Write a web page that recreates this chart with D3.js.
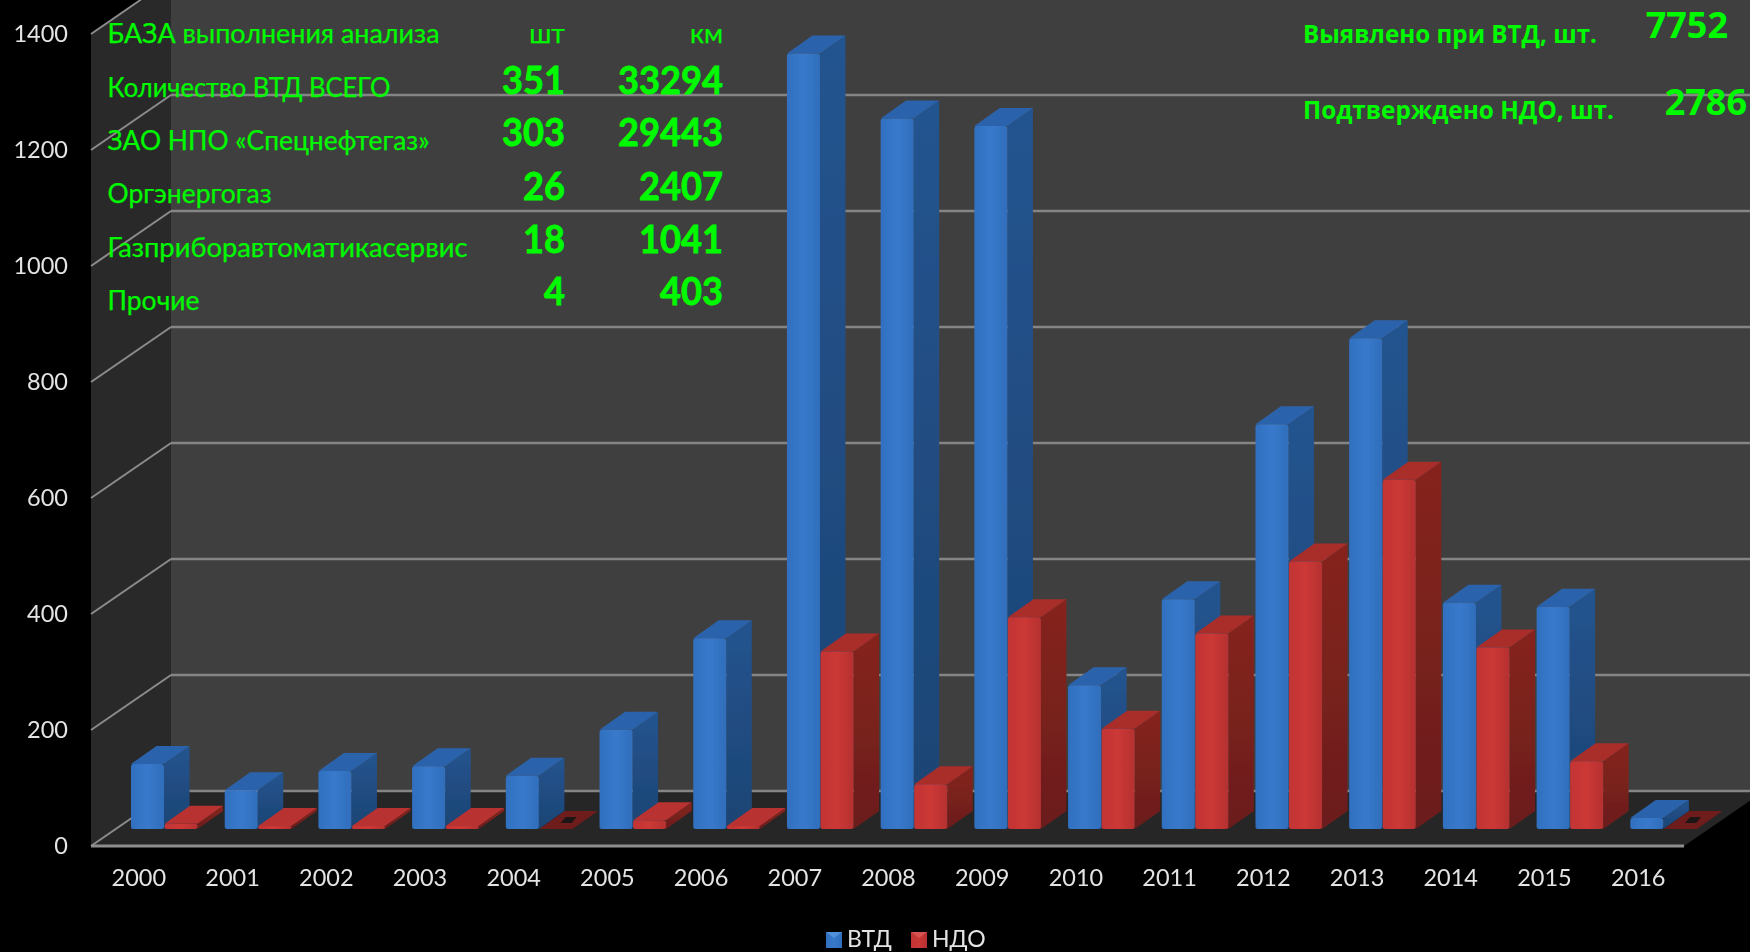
<!DOCTYPE html>
<html><head><meta charset="utf-8">
<script src="https://cdn.jsdelivr.net/npm/d3@7/dist/d3.min.js"></script>
<style>html,body{margin:0;padding:0;background:#000;overflow:hidden}svg{display:block}</style>
</head><body><svg id="c" width="1750" height="952"></svg>
<script>
const years=["2000","2001","2002","2003","2004","2005","2006","2007","2008","2009","2010","2011","2012","2013","2014","2015","2016"];
const seriesNames=["ВТД","НДО"];
const vtd=[112,67,100,108,92,171,329,1337,1225,1212,248,396,698,846,390,383,19];
const ndo=[9,5,5,5,0,15,5,306,77,365,173,337,461,602,313,117,0];
const yTicks=[0,200,400,600,800,1000,1200,1400];
const tableHead=["БАЗА выполнения анализа","шт","км"];
const tableLabels=["Количество ВТД ВСЕГО","ЗАО НПО «Спецнефтегаз»","Оргэнергогаз","Газприборавтоматикасервис","Прочие"];
const tableCounts=[351,303,26,18,4];
const tableKm=[33294,29443,2407,1041,403];
const noteLabels=["Выявлено при ВТД, шт.","Подтверждено НДО, шт."];
const noteValues=[7752,2786];

const svg=d3.select("#c");
const W=1750,H=952;
const left=91,right=1684,y0=846,yTop=34;
const wallDx=80,wallDy=55;      // depth of the chart box
const barShiftX=26.7,barShiftY=17; // where bars stand on the floor
const dx=25.5,dy=18;            // depth of a bar
const y=d3.scaleLinear().domain([0,1400]).range([y0,yTop]);
const xAxisScale=d3.scaleBand().domain(years).range([left,right]);
const x0=d3.scaleBand().domain(years).range([left+barShiftX,right+barShiftX]).paddingInner(.284).paddingOuter(.142);
const x1=d3.scaleBand().domain(seriesNames).range([0,x0.bandwidth()]);
const poly=d3.line().curve(d3.curveLinearClosed);

const defs=svg.append("defs");
function grad(id,stops,vertical){
  const g=defs.append("linearGradient").attr("id",id).attr("x1",0).attr("y1",0).attr("x2",vertical?0:1).attr("y2",vertical?1:0);
  stops.forEach(s=>g.append("stop").attr("offset",s[0]).attr("stop-color",s[1]));
}
grad("bf",[[0,"#3070bf"],[.5,"#3979cc"],[1,"#2f6ebb"]]);
grad("bs",[[0,"#23548f"],[1,"#1d4474"]],true);
grad("rf",[[0,"#c23433"],[.5,"#cc3836"],[1,"#b53130"]]);
grad("rs",[[0,"#86241f"],[1,"#6b1d1b"]],true);
defs.append("filter").attr("id","soft").append("feGaussianBlur").attr("stdDeviation",.7);
defs.append("filter").attr("id","softT").append("feGaussianBlur").attr("stdDeviation",.35);

// box
svg.append("rect").attr("width",W).attr("height",H).attr("fill","#000");
svg.append("rect").attr("x",left+wallDx).attr("y",0).attr("width",W-left-wallDx).attr("height",y(0)-wallDy).attr("fill","#3f3f3f");
svg.append("path").attr("fill","#292929").attr("d",poly([[left,y(1400)],[left+52,0],[left+wallDx,0],[left+wallDx,y(0)-wallDy],[left,y(0)]]));
svg.append("path").attr("fill","#262626").attr("d",poly([[left,y0],[right,y0],[right+wallDx,y0-wallDy],[left+wallDx,y0-wallDy]]));

// grid
const grid=svg.append("g").attr("fill","none");
grid.selectAll("path.b").data(yTicks).join("path").attr("class","b").attr("stroke","#858585").attr("stroke-width",2.4)
  .attr("d",d=>d3.line()([[left+wallDx,y(d)-wallDy],[W,y(d)-wallDy]]));
grid.selectAll("path.s").data(yTicks).join("path").attr("class","s").attr("stroke","#8c8c8c").attr("stroke-width",2)
  .attr("d",d=>d3.line()([[left,y(d)],[left+wallDx,y(d)-wallDy]]));
svg.append("path").attr("stroke","#8e8e8e").attr("stroke-width",3).attr("d",d3.line()([[left,y0],[right,y0]]));

// bars
const barsG=svg.append("g").attr("filter","url(#soft)");
const rows=[];
years.forEach((yr,i)=>{rows.push({yr,s:"ВТД",v:vtd[i]});rows.push({yr,s:"НДО",v:ndo[i]});});
const styles={"ВТД":{f:"url(#bf)",side:"url(#bs)",top:"#2c63ab"},"НДО":{f:"url(#rf)",side:"url(#rs)",top:"#a92d2b"}};
rows.forEach(d=>{
  const st=styles[d.s];
  const xa=x0(d.yr)+x1(d.s),xb=xa+x1.bandwidth()-.5;
  const base=y(0)-barShiftY,t=y(d.v)-barShiftY;
  const g=barsG.append("g");
  if(d.v===0){
    g.append("path").attr("fill","#6e1b1b").attr("d",poly([[xa,base],[xa+dx,base-dy],[xb+dx,base-dy],[xb,base]]));
    const cx=(xa+xb+dx)/2,cy=base-dy/2;
    g.append("path").attr("fill","#1c1414").attr("d",poly([[cx-8,cy+3],[cx-3,cy-3],[cx+8,cy-3],[cx+3,cy+3]]));
    return;
  }
  const flat=d.s==="НДО"&&d.v<20;
  g.append("path").attr("fill",st.side).attr("d",poly([[xb,t],[xb+dx,t-dy],[xb+dx,base-dy],[xb,base]]));
  g.append("path").attr("fill",flat?"#b93130":st.top).attr("d",poly([[xa,t],[xa+dx,t-dy],[xb+dx,t-dy],[xb,t]]));
  g.append("rect").attr("x",xa).attr("y",t).attr("width",xb-xa).attr("height",base-t).attr("rx",Math.min(2.5,(base-t)/2)).attr("fill",st.f);
});

// axes
const tickFont="Lato, sans-serif";
const ax=svg.append("g").attr("transform",`translate(1,${y0})`).call(d3.axisBottom(xAxisScale).tickSize(0).tickPadding(23));
const ay=svg.append("g").attr("transform",`translate(${left},0)`).call(d3.axisLeft(y).tickValues(yTicks).tickFormat(d3.format("d")).tickSize(0).tickPadding(23));
[ax,ay].forEach(a=>{a.select(".domain").remove();
  a.selectAll("text").attr("fill","#e4e4e4").attr("font-family",tickFont).attr("font-size",23.5).attr("filter","url(#softT)");});

// table
const green="#00fa00";
const labelFont="Lato, sans-serif";
const t=svg.append("g").attr("fill",green).attr("font-family",labelFont).attr("stroke",green).attr("stroke-width",.25);
const labelBase=[96.5,149.5,202.5,256.5,309.5],numBase=[94,146,200,253,305];
const labelWidths=[283,322,164,360,92];
const digitW=21;
t.append("text").attr("x",107.5).attr("y",43).attr("font-size",27).attr("textLength",332).attr("lengthAdjust","spacingAndGlyphs").text(tableHead[0]);
t.append("text").attr("x",565).attr("y",43).attr("font-size",27).attr("text-anchor","end").text(tableHead[1]);
t.append("text").attr("x",723).attr("y",43).attr("font-size",27).attr("text-anchor","end").text(tableHead[2]);
t.selectAll("text.l").data(tableLabels).join("text").attr("class","l").attr("x",107.5).attr("y",(d,i)=>labelBase[i])
  .attr("font-size",27).attr("textLength",(d,i)=>labelWidths[i]).attr("lengthAdjust","spacingAndGlyphs").text(d=>d);
function nums(cls,data,xr){
  t.selectAll("text."+cls).data(data).join("text").attr("class",cls).attr("x",xr).attr("y",(d,i)=>numBase[i])
   .attr("font-size",39).attr("font-weight",700).attr("stroke-width",.8).attr("text-anchor","end")
   .attr("textLength",d=>String(d).length*digitW).attr("lengthAdjust","spacingAndGlyphs").text(d=>d);
}
nums("n",tableCounts,565);
nums("k",tableKm,723);

// notes
const n=svg.append("g").attr("fill",green).attr("font-family","'Open Sans', sans-serif").attr("font-weight",700);
const noteBase=[43,119],noteWidths=[294,311],valBase=[38,115],valRight=[1728,1747];
n.selectAll("text.a").data(noteLabels).join("text").attr("class","a").attr("x",1303).attr("y",(d,i)=>noteBase[i])
  .attr("font-size",25).attr("textLength",(d,i)=>noteWidths[i]).attr("lengthAdjust","spacingAndGlyphs").text(d=>d);
n.selectAll("text.b").data(noteValues).join("text").attr("class","b").attr("x",(d,i)=>valRight[i]).attr("y",(d,i)=>valBase[i])
  .attr("font-size",36).attr("text-anchor","end").text(d=>d);

// legend
const legX=[826,911],legFill=["url(#bf)","url(#rf)"],legTop=["#5b9be0","#e0605c"];
const lg=svg.append("g").attr("font-family",labelFont).attr("fill","#e4e4e4");
seriesNames.forEach((s,i)=>{
  lg.append("rect").attr("x",legX[i]).attr("y",932).attr("width",16).attr("height",16).attr("fill",legFill[i]).attr("filter","url(#softT)");
  lg.append("path").attr("fill",legTop[i]).attr("opacity",.7).attr("d",poly([[legX[i],932],[legX[i]+16,932],[legX[i]+8,938]]));
  lg.append("text").attr("x",legX[i]+21).attr("y",947).attr("font-size",23).attr("filter","url(#softT)").text(s);
});
</script></body></html>
